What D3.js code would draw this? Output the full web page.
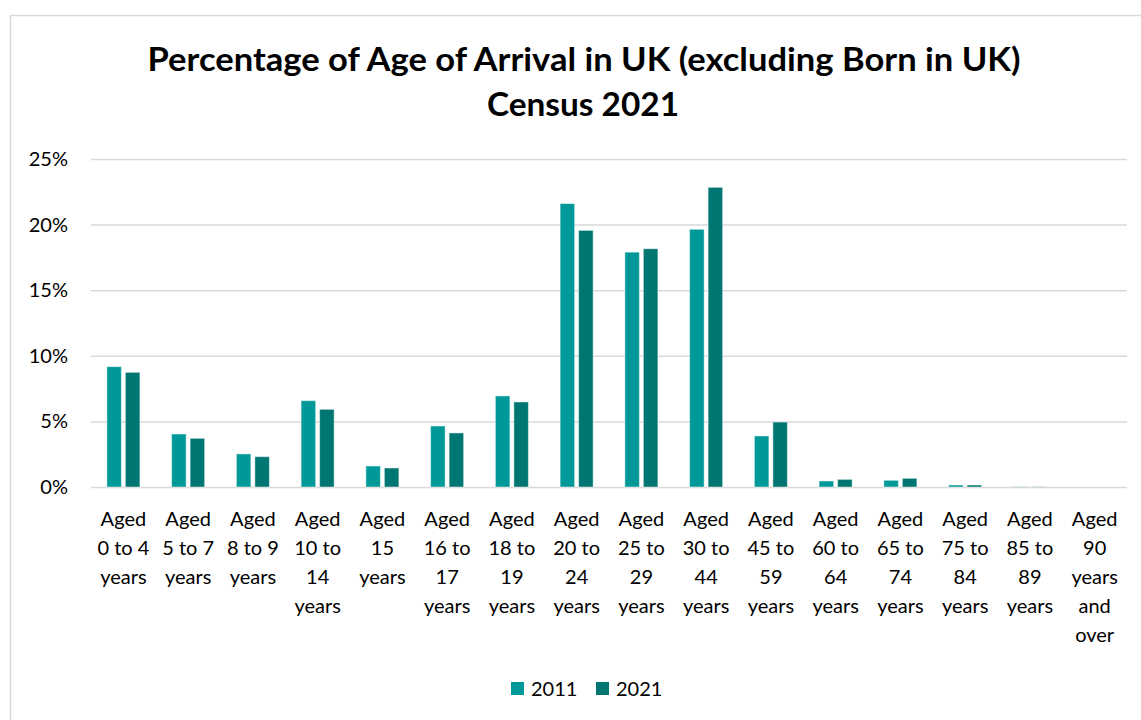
<!DOCTYPE html>
<html>
<head>
<meta charset="utf-8">
<script src="https://cdn.jsdelivr.net/npm/d3@7"></script>
<style>
  html, body { margin: 0; padding: 0; background: #fff; }
  svg { display: block; }
</style>
</head>
<body>
<svg id="chart" width="1141" height="720"></svg>
<script>
const categories = [
  "Aged 0 to 4 years", "Aged 5 to 7 years", "Aged 8 to 9 years", "Aged 10 to 14 years",
  "Aged 15 years", "Aged 16 to 17 years", "Aged 18 to 19 years", "Aged 20 to 24 years",
  "Aged 25 to 29 years", "Aged 30 to 44 years", "Aged 45 to 59 years", "Aged 60 to 64 years",
  "Aged 65 to 74 years", "Aged 75 to 84 years", "Aged 85 to 89 years", "Aged 90 years and over"
];
const seriesNames = ["2011", "2021"];
const values2011 = [9.17, 4.04, 2.52, 6.58, 1.60, 4.65, 6.94, 21.6, 17.9, 19.64, 3.89, 0.46, 0.51, 0.15, 0.01, 0.0];
const values2021 = [8.74, 3.71, 2.31, 5.92, 1.45, 4.12, 6.48, 19.56, 18.16, 22.84, 4.95, 0.58, 0.66, 0.15, 0.01, 0.0];
const yTicks = [0, 5, 10, 15, 20, 25];
const titleLines = ["Percentage of Age of Arrival in UK (excluding Born in UK)", "Census 2021"];
const colors = ["#009999", "#007672"];

(function () {
const svg = d3.select("#chart");
const FONT = "Lato, 'Open Sans', sans-serif";
const FS = 20;

// chart border
svg.append("rect").attr("x", 10.5).attr("y", 15.5).attr("width", 1140).attr("height", 720)
  .attr("fill", "#fff").attr("stroke", "#d9d9d9").attr("stroke-width", 1.5);

const pLeft = 91, pRight = 1127, pTop = 159, pBottom = 487;

const x = d3.scaleBand().domain(categories).range([pLeft, pRight]).paddingInner(0).paddingOuter(0);
const y = d3.scaleLinear().domain([0, 25]).range([pBottom, pTop]);

// title
const title = svg.append("g").attr("font-family", FONT).attr("font-weight", "bold")
  .attr("font-size", 32).attr("fill", "#000").attr("text-anchor", "middle");
title.append("text").attr("x", 584).attr("y", 71).text(titleLines[0])
  .attr("textLength", 873).attr("lengthAdjust", "spacingAndGlyphs");
title.append("text").attr("x", 583).attr("y", 116).text(titleLines[1])
  .attr("textLength", 192).attr("lengthAdjust", "spacingAndGlyphs");

// gridlines + y axis
const yAxis = d3.axisLeft(y).tickValues(yTicks).tickFormat(d => d + "%").tickSize(-(pRight - pLeft)).tickPadding(23);
const gy = svg.append("g").attr("transform", `translate(${pLeft},0)`).call(yAxis);
gy.select(".domain").remove();
gy.selectAll(".tick line").attr("stroke", "#d9d9d9").attr("stroke-width", 1.5);
gy.selectAll(".tick text").attr("font-family", FONT).attr("font-size", FS).attr("fill", "#000");

// bars
const bw = 14.5, gap = 4;
const series = [values2011, values2021];
series.forEach((vals, si) => {
  svg.append("g").selectAll("rect").data(categories).join("rect")
    .attr("x", d => x(d) + x.bandwidth() / 2 + (si === 0 ? -(bw + gap / 2) : gap / 2))
    .attr("y", (d, i) => y(vals[i]))
    .attr("width", bw)
    .attr("height", (d, i) => Math.max(0, y(0) - y(vals[i])))
    .attr("fill", colors[si])
    .attr("stroke", (d, i) => vals[i] > 0.05 ? "rgba(255,255,255,0.45)" : "none")
    .attr("stroke-width", 1);
});

// x axis labels with wrapping
const xAxis = d3.axisBottom(x).tickSize(0).tickPadding(0);
const gx = svg.append("g").attr("transform", `translate(0,${pBottom})`).call(xAxis);
gx.select(".domain").remove();
const maxW = 57;
gx.selectAll(".tick text").each(function(d) {
  const t = d3.select(this);
  t.text(null).attr("font-family", FONT).attr("font-size", FS).attr("fill", "#000").attr("y", 0).attr("dy", null);
  const words = d.split(" ");
  const lines = [];
  let cur = [];
  const probe = t.append("tspan");
  words.forEach(w => {
    const test = cur.concat([w]).join(" ");
    probe.text(test);
    if (cur.length && probe.node().getComputedTextLength() > maxW) {
      lines.push(cur.join(" "));
      cur = [w];
    } else {
      cur.push(w);
    }
  });
  if (cur.length) lines.push(cur.join(" "));
  probe.remove();
  lines.forEach((ln, i) => {
    t.append("tspan").attr("x", 0).attr("y", 39 + i * 29).text(ln);
  });
});

// legend
const legend = svg.append("g").attr("font-family", FONT).attr("font-size", FS);
const legendX = [511, 596];
seriesNames.forEach((n, i) => {
  legend.append("rect").attr("x", legendX[i]).attr("y", 682).attr("width", 13).attr("height", 13).attr("fill", colors[i]);
  legend.append("text").attr("x", legendX[i] + 20).attr("y", 696).text(n).attr("fill", "#000");
});
})();
</script>
</body>
</html>
